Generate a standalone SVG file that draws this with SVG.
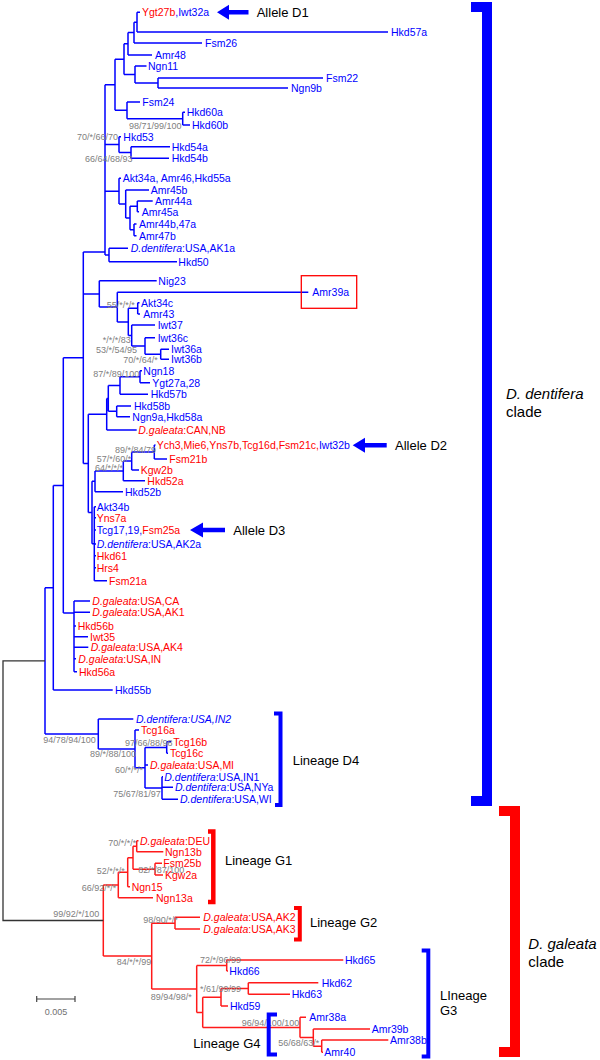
<svg xmlns="http://www.w3.org/2000/svg" width="600" height="1060" viewBox="0 0 600 1060">
<style>
text{font-family:"Liberation Sans",Arial,sans-serif}
.t{font-size:10.5px}
.B{fill:#0000ff}
.R{fill:#ff0000}
.i{font-style:italic}
.s{font-size:9px;fill:#808080}
.L{font-size:13px;fill:#000}
.C{font-size:15px;fill:#000}
.eb{fill:none;stroke:#0000ff;stroke-width:1.5}
.er{fill:none;stroke:#ff1a1a;stroke-width:1.5}
.ek{fill:none;stroke:#333;stroke-width:1.3}
.kb{fill:none;stroke:#0000ff;stroke-linejoin:miter}
.kr{fill:none;stroke:#ff0000;stroke-linejoin:miter}
</style>
<rect width="600" height="1060" fill="#fff"/>
<g id="connectors">
<path class="eb" d="M137,12.3H140M137,32H388M137,12.3V32M134,22.2H137M134,22.2V43M134,43H202M128,32.6H134M128,32.6V55M128,55H152M124,43.8H128M124,43.8V74.5M135,66H146.5M135,66V83M135,83H158M158,78V88M158,78H323M158,88H288M124,74.5H135M115,59.2H124M115,59.2V110.3M115,110.3H127M127,102V118.7M127,102H140M127,118.7H182.7M182.7,112.3V125M182.7,112.3H185M182.7,125H190
M105,84.7H115M105,84.7V255M105,144.6H119M119,136.7V152.5M119,136.7H121M119,152.5H131M131,146.7V158.3M131,146.7H170M131,158.3H169
M105,191.2H119M119,178.3V204M119,178.3H121M119,204H125.7M125.7,190V218M125.7,190H149M125.7,218H130M130,206.3V229.8M130,206.3H137.3M137.3,201V211.7M137.3,201H152.7M137.3,211.7H139M130,229.8H134M134,224V235.7M134,224H136.5M134,235.7H136.5
M105,255H109M109,248.3V261.7M109,248.3H128M109,261.7H177
M83.3,252H105M83.3,252V463.4M83.3,293.9H99.3M99.3,280.7V307.1M99.3,280.7H156.7M99.3,307.1H117.3M117.3,292.3V321.9M117.3,292.3H308.3M117.3,321.9H128.3M128.3,308.3V335.5M128.3,308.3H137.7M137.7,302.7V314M137.7,302.7H139.5M137.7,314H140M128.3,335.5H131.7M131.7,325V346M131.7,325H155M131.7,346H145M145,337.7V354.3M145,337.7H155M145,354.3H160.7M160.7,349.3V359.3M160.7,349.3H169M160.7,359.3H169
M83.3,463.4H88.3M88.3,414.2V512.5M88.3,414.2H106.7M106.7,398.4V430M106.7,398.4H108.3M108.3,385.5V411.3M108.3,385.5H120M120,376.7V394.3M120,376.7H140M140,370.7V382.7M140,370.7H142M140,382.7H150M120,394.3H148M108.3,411.3H116.7M116.7,406V416.7M116.7,406H131M116.7,416.7H130M106.7,430H136.7
M88.3,512.5H92M92,481.3V543.7M92,481.3H95M95,470.9V491.7M95,470.9H123.3M95,491.7H123M123.3,461V480.7M123.3,461H131.7M123.3,480.7H145M131.7,452V470M131.7,452H154.3M131.7,470H139M154.3,445V459M154.3,445H155.5M154.3,459H167
M92,543.7H94.3M94.3,506.7V580.7M94.3,506.7H96M94.3,517.7H96M94.3,530H96M94.3,544H96M94.3,555.7H96M94.3,567.7H96M94.3,580.7H107
M63.3,357.7H83.3M63.3,357.7V613M63.3,613H74M74,601V671.7M74,601H90M74,612.3H90M74,626H76M74,636.7H88M74,647.3H88.3M74,658.7H76M74,671.7H77
M53.3,485.4H63.3M53.3,485.4V690M53.3,690H112.7M45,587.7H53.3M45,587.7V734
M45,734H98.3M98.3,719V748.9M98.3,719H133.3M98.3,748.9H135M135,730V767.7M135,730H139M135,767.7H145M145,747.5V788M145,747.5H166.7M166.7,741.7V753.3M166.7,741.7H171M166.7,753.3H168M145,765H148M145,788H162M162,776.7V799.3M162,776.7H163M162,787.3H173M162,799.3H178"/>
<path class="er" d="M103.3,885V956.1M103.3,885H118.3M118.3,872.2V897.7M118.3,897.7H153M118.3,872.2H127.7M127.7,857.7V886.7M127.7,886.7H130M127.7,857.7H133M133,846.2V869.2M133,846.2H136.7M136.7,840.7V851.7M136.7,840.7H138.5M136.7,851.7H163.3M133,869.2H155M155,863.3V875M155,863.3H162M155,875H163
M103.3,956.1H151.7M151.7,923.2V989M151.7,923.2H175M175,917.3V929M175,917.3H200M175,929H200M151.7,989H196.7M196.7,965.5V1012.4M196.7,965.5H226.7M226.7,960V971M226.7,960H343.3M226.7,971H228M196.7,1012.4H202.7M202.7,997.3V1027.5M202.7,997.3H221M221,988.5V1006M221,988.5H248.3M248.3,982.7V994.3M248.3,982.7H318.3M248.3,994.3H290M221,1006H228M202.7,1027.5H300M300,1017.3V1037.6M300,1017.3H306M300,1037.6H313.3M313.3,1029V1046.2M313.3,1029H370M313.3,1046.2H321.7M321.7,1040V1052.3M321.7,1040H388.3M321.7,1052.3H323"/>
<path class="ek" d="M45,660.9H3V920.5H103.3"/>
</g>
<g id="support" class="s">
<text x="129" y="129">98/71/99/100</text>
<text x="77" y="140">70/*/66/70</text>
<text x="85" y="162">66/64/68/93</text>
<text x="106.7" y="307.5">55/*/*/*</text>
<text x="102.7" y="343">*/*/*/83</text>
<text x="96" y="353">53/*/54/95</text>
<text x="123.3" y="362.5">70/*/64/*</text>
<text x="93.3" y="376.5">87/*/89/100</text>
<text x="115" y="452.5">89/*/84/79</text>
<text x="96.7" y="461.5">57/*/60/*</text>
<text x="95" y="470.5">64/*/*/*</text>
<text x="43.3" y="743">94/78/94/100</text>
<text x="90" y="756.5">89/*/88/100</text>
<text x="125" y="746">97/66/88/98</text>
<text x="115" y="773">60/*/*/*</text>
<text x="113.3" y="796.5">75/67/81/97</text>
<text x="108.3" y="846">70/*/*/*</text>
<text x="96.7" y="874">52/*/*/*</text>
<text x="138.3" y="873">82/*/87/100</text>
<text x="81.7" y="890.5">66/92/*/*</text>
<text x="53.3" y="916.5">99/92/*/100</text>
<text x="143.3" y="923">98/90/*/*</text>
<text x="116.7" y="965">84/*/*/99</text>
<text x="200" y="962.5">72/*/96/99</text>
<text x="200" y="991.5">*/61/99/99</text>
<text x="150.7" y="1000">89/94/98/*</text>
<text x="241.7" y="1026">96/94/100/100</text>
<text x="278.3" y="1046">56/68/63/*</text>
</g>
<g id="leaves" class="t">
<g id="n-Ygt27b"><text x="142" y="16.3"><tspan class="R">Ygt27b</tspan><tspan class="B">,Iwt32a</tspan></text></g>
<g id="n-Hkd57a"><text class="B" x="391" y="36">Hkd57a</text></g>
<g id="n-Fsm26"><text class="B" x="205" y="47">Fsm26</text></g>
<g id="n-Amr48"><text class="B" x="155" y="59">Amr48</text></g>
<g id="n-Ngn11"><text class="B" x="148" y="70">Ngn11</text></g>
<g id="n-Fsm22"><text class="B" x="326" y="82">Fsm22</text></g>
<g id="n-Ngn9b"><text class="B" x="291" y="92">Ngn9b</text></g>
<g id="n-Fsm24"><text class="B" x="142.3" y="106">Fsm24</text></g>
<g id="n-Hkd60a"><text class="B" x="186.7" y="116.3">Hkd60a</text></g>
<g id="n-Hkd60b"><text class="B" x="192" y="129">Hkd60b</text></g>
<g id="n-Hkd53"><text class="B" x="123.3" y="140.7">Hkd53</text></g>
<g id="n-Hkd54a"><text class="B" x="171.7" y="150.7">Hkd54a</text></g>
<g id="n-Hkd54b"><text class="B" x="171.7" y="162.3">Hkd54b</text></g>
<g id="n-Akt34a"><text class="B" x="122.7" y="182.3">Akt34a, Amr46,Hkd55a</text></g>
<g id="n-Amr45b"><text class="B" x="150.7" y="194">Amr45b</text></g>
<g id="n-Amr44a"><text class="B" x="155" y="205">Amr44a</text></g>
<g id="n-Amr45a"><text class="B" x="141.7" y="215.7">Amr45a</text></g>
<g id="n-Amr44b"><text class="B" x="139" y="228">Amr44b,47a</text></g>
<g id="n-Amr47b"><text class="B" x="139" y="239.7">Amr47b</text></g>
<g id="n-AK1a"><text class="B" x="130.7" y="252.3"><tspan class="i">D.dentifera</tspan>:USA,AK1a</text></g>
<g id="n-Hkd50"><text class="B" x="178.3" y="265.7">Hkd50</text></g>
<g id="n-Nig23"><text class="B" x="158.3" y="284.7">Nig23</text></g>
<g id="n-Amr39a"><rect x="301.3" y="275.7" width="55.4" height="32.6" fill="none" stroke="#ff0000" stroke-width="1.3"/><text class="B" x="312.3" y="296.3">Amr39a</text></g>
<g id="n-Akt34c"><text class="B" x="141" y="306.7">Akt34c</text></g>
<g id="n-Amr43"><text class="B" x="143.3" y="318">Amr43</text></g>
<g id="n-Iwt37"><text class="B" x="157.7" y="329">Iwt37</text></g>
<g id="n-Iwt36c"><text class="B" x="157.7" y="341.7">Iwt36c</text></g>
<g id="n-Iwt36a"><text class="B" x="171" y="353.3">Iwt36a</text></g>
<g id="n-Iwt36b"><text class="B" x="171" y="363.3">Iwt36b</text></g>
<g id="n-Ngn18"><text class="B" x="143.3" y="374.7">Ngn18</text></g>
<g id="n-Ygt27a"><text class="B" x="152.3" y="386.7">Ygt27a,28</text></g>
<g id="n-Hkd57b"><text class="B" x="150.7" y="398.3">Hkd57b</text></g>
<g id="n-Hkd58b"><text class="B" x="134" y="410">Hkd58b</text></g>
<g id="n-Ngn9a"><text class="B" x="132.3" y="420.7">Ngn9a,Hkd58a</text></g>
<g id="n-CANNB"><text class="R" x="138.3" y="434"><tspan class="i">D.galeata</tspan>:CAN,NB</text></g>
<g id="n-Ych3"><text x="156.7" y="449"><tspan class="R">Ych3,Mie6,Yns7b,Tcg16d,Fsm21c,</tspan><tspan class="B">Iwt32b</tspan></text></g>
<g id="n-Fsm21b"><text class="R" x="169.3" y="463">Fsm21b</text></g>
<g id="n-Kgw2b"><text class="R" x="140.7" y="474">Kgw2b</text></g>
<g id="n-Hkd52a"><text class="R" x="147.3" y="484.7">Hkd52a</text></g>
<g id="n-Hkd52b"><text class="B" x="125" y="495.7">Hkd52b</text></g>
<g id="n-Akt34b"><text class="B" x="96.7" y="510.7">Akt34b</text></g>
<g id="n-Yns7a"><text class="R" x="96.7" y="521.7">Yns7a</text></g>
<g id="n-Tcg17"><text x="96.7" y="534"><tspan class="B">Tcg17,19,</tspan><tspan class="R">Fsm25a</tspan></text></g>
<g id="n-AK2a"><text class="B" x="96.7" y="548"><tspan class="i">D.dentifera</tspan>:USA,AK2a</text></g>
<g id="n-Hkd61"><text class="R" x="96.7" y="559.7">Hkd61</text></g>
<g id="n-Hrs4"><text class="R" x="96.7" y="571.7">Hrs4</text></g>
<g id="n-Fsm21a"><text class="R" x="109" y="584.7">Fsm21a</text></g>
<g id="n-CA"><text class="R" x="92.3" y="605"><tspan class="i">D.galeata</tspan>:USA,CA</text></g>
<g id="n-AK1"><text class="R" x="92.3" y="616.3"><tspan class="i">D.galeata</tspan>:USA,AK1</text></g>
<g id="n-Hkd56b"><text class="R" x="77.7" y="630">Hkd56b</text></g>
<g id="n-Iwt35"><text class="R" x="90" y="640.7">Iwt35</text></g>
<g id="n-AK4"><text class="R" x="90.7" y="651.3"><tspan class="i">D.galeata</tspan>:USA,AK4</text></g>
<g id="n-IN"><text class="R" x="78.3" y="662.7"><tspan class="i">D.galeata</tspan>:USA,IN</text></g>
<g id="n-Hkd56a"><text class="R" x="79" y="675.7">Hkd56a</text></g>
<g id="n-Hkd55b"><text class="B" x="115" y="694">Hkd55b</text></g>
<g id="n-IN2"><text class="B i" x="136" y="723">D.dentifera:USA,IN2</text></g>
<g id="n-Tcg16a"><text class="R" x="141" y="734">Tcg16a</text></g>
<g id="n-Tcg16b"><text class="R" x="173.3" y="745.7">Tcg16b</text></g>
<g id="n-Tcg16c"><text class="R" x="170" y="757.3">Tcg16c</text></g>
<g id="n-MI"><text class="R" x="150" y="769"><tspan class="i">D.galeata</tspan>:USA,MI</text></g>
<g id="n-IN1"><text class="B" x="164.3" y="780.7"><tspan class="i">D.dentifera</tspan>:USA,IN1</text></g>
<g id="n-NYa"><text class="B" x="175" y="791.3"><tspan class="i">D.dentifera</tspan>:USA,NYa</text></g>
<g id="n-WI"><text class="B" x="180" y="803.3"><tspan class="i">D.dentifera</tspan>:USA,WI</text></g>
<g id="n-DEU"><text class="R" x="140" y="844.7"><tspan class="i">D.galeata</tspan>:DEU</text></g>
<g id="n-Ngn13b"><text class="R" x="165" y="855.7">Ngn13b</text></g>
<g id="n-Fsm25b"><text class="R" x="163.3" y="867.3">Fsm25b</text></g>
<g id="n-Kgw2a"><text class="R" x="165" y="879">Kgw2a</text></g>
<g id="n-Ngn15"><text class="R" x="131.7" y="890.7">Ngn15</text></g>
<g id="n-Ngn13a"><text class="R" x="156" y="901.7">Ngn13a</text></g>
<g id="n-AK2"><text class="R" x="203.3" y="921.3"><tspan class="i">D.galeata</tspan>:USA,AK2</text></g>
<g id="n-AK3"><text class="R" x="203.3" y="933"><tspan class="i">D.galeata</tspan>:USA,AK3</text></g>
<g id="n-Hkd65"><text class="B" x="345" y="964">Hkd65</text></g>
<g id="n-Hkd66"><text class="B" x="229.3" y="975">Hkd66</text></g>
<g id="n-Hkd62"><text class="B" x="321.7" y="986.7">Hkd62</text></g>
<g id="n-Hkd63"><text class="B" x="291.7" y="998.3">Hkd63</text></g>
<g id="n-Hkd59"><text class="B" x="230" y="1010">Hkd59</text></g>
<g id="n-Amr38a"><text class="B" x="309.3" y="1021.3">Amr38a</text></g>
<g id="n-Amr39b"><text class="B" x="371.7" y="1033">Amr39b</text></g>
<g id="n-Amr38b"><text class="B" x="390" y="1044">Amr38b</text></g>
<g id="n-Amr40"><text class="B" x="324.3" y="1056.3">Amr40</text></g>
</g>
<g id="alleles">
<g id="allele-D1"><polygon fill="#0000ff" points="217,12.3 229,4.8 229,10 248.5,10 248.5,14.6 229,14.6 229,19.8"/><text class="L" x="256.7" y="17">Allele D1</text></g>
<g id="allele-D2"><polygon fill="#0000ff" points="352.7,445.3 365,437.8 365,443 386.7,443 386.7,447.6 365,447.6 365,452.8"/><text class="L" x="395" y="450">Allele D2</text></g>
<g id="allele-D3"><polygon fill="#0000ff" points="190,530 203,522.5 203,527.7 225,527.7 225,532.3 203,532.3 203,537.5"/><text class="L" x="233.3" y="534.7">Allele D3</text></g>
</g>
<g id="clades">
<g id="clade-dentifera"><path class="kb" stroke-width="10" d="M471,7H487V801H471"/><text class="C" x="506" y="399"><tspan font-style="italic">D. dentifera</tspan></text><text class="C" x="506" y="417">clade</text></g>
<g id="clade-galeata"><path class="kr" stroke-width="10" d="M499,811H515V1052H499"/><text class="C" x="528.3" y="948.7"><tspan font-style="italic">D. galeata</tspan></text><text class="C" x="528.3" y="967">clade</text></g>
<g id="lineage-D4"><path class="kb" stroke-width="4" d="M274,713.5H280.5V805H275"/><text class="L" x="292.7" y="764.7">Lineage D4</text></g>
<g id="lineage-G1"><path class="kr" stroke-width="4.5" d="M208,831.5H213.3V902H208"/><text class="L" x="225" y="864.7">Lineage G1</text></g>
<g id="lineage-G2"><path class="kr" stroke-width="4" d="M294,908H299.8V939.5H294"/><text class="L" x="310" y="927.4">Lineage G2</text></g>
<g id="lineage-G3"><path class="kb" stroke-width="4" d="M421.7,950.5H428.3V1056.5H421.7"/><text class="L" x="440" y="999.7">LIneage</text><text class="L" x="440" y="1014.7">G3</text></g>
<g id="lineage-G4"><path class="kb" stroke-width="4" d="M277,1014.5H268.7V1054.5H277"/><text class="L" x="193.3" y="1047.7">Lineage G4</text></g>
</g>
<g id="scale">
<path fill="none" stroke="#444" stroke-width="1.2" d="M36.7,999H75M36.7,996V1002M75,996V1002"/>
<text x="56" y="1015" text-anchor="middle" font-size="9" fill="#707070">0.005</text>
</g>
</svg>
